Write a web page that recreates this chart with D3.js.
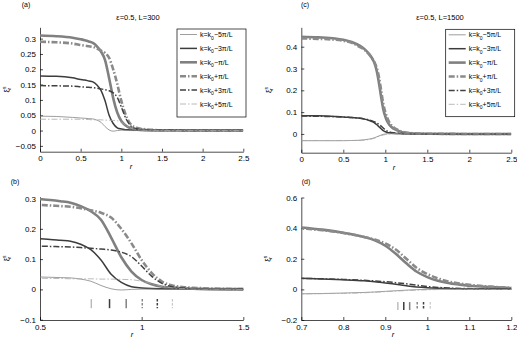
<!DOCTYPE html>
<html>
<head>
<meta charset="utf-8">
<script src="https://cdn.jsdelivr.net/npm/d3@7"></script>
<style>
  body { margin: 0; background: #fff; }
  svg { display: block; font-family: "Liberation Sans", Arial, sans-serif; }
  .axis path, .axis line { stroke: #000; stroke-width: 0.7; }
  .axis text { font-size: 8px; fill: #000; }
</style>
</head>
<body>
<script>
// series names (legend order)
var seriesNames = ['\u22125\u03c0/L', '\u22123\u03c0/L', '\u2212\u03c0/L', '+\u03c0/L', '+3\u03c0/L', '+5\u03c0/L'];

// L=300, panels (a) and (b)
var r300 = [0, 0.2, 0.4, 0.5, 0.55, 0.6, 0.65, 0.7, 0.75, 0.8, 0.85, 0.9, 0.95, 1.0, 1.05, 1.1, 1.15, 1.2, 1.3, 1.4, 1.5, 2.0, 2.5];
var m5_300 = [0.047, 0.046, 0.043, 0.041, 0.040, 0.039, 0.038, 0.034, 0.027, 0.013, 0.002, -0.002, 0.000, 0.001, 0.001, 0, 0, 0, 0, 0, 0, 0, 0];
var m3_300 = [0.178, 0.177, 0.172, 0.167, 0.165, 0.162, 0.159, 0.149, 0.131, 0.097, 0.050, 0.023, 0.009, 0.005, 0.003, 0.002, 0.001, 0.001, 0, 0, 0, 0, 0];
var m1_300 = [0.310, 0.308, 0.303, 0.298, 0.295, 0.291, 0.286, 0.275, 0.258, 0.230, 0.171, 0.106, 0.059, 0.031, 0.017, 0.009, 0.006, 0.004, 0.002, 0.001, 0.001, 0.001, 0.001];
var p1_300 = [0.290, 0.288, 0.284, 0.279, 0.277, 0.275, 0.273, 0.268, 0.261, 0.253, 0.237, 0.200, 0.152, 0.097, 0.054, 0.026, 0.013, 0.008, 0.004, 0.002, 0.001, 0.001, 0.001];
var p3_300 = [0.147, 0.146, 0.145, 0.143, 0.142, 0.141, 0.140, 0.138, 0.136, 0.133, 0.130, 0.123, 0.108, 0.077, 0.043, 0.020, 0.009, 0.005, 0.002, 0.001, 0.001, 0, 0];
var p5_300 = [0.037, 0.037, 0.037, 0.037, 0.036, 0.036, 0.035, 0.035, 0.035, 0.034, 0.034, 0.033, 0.032, 0.027, 0.019, 0.010, 0.005, 0.003, 0.001, 0.001, 0, 0, 0];
var marks300 = [0.752, 0.842, 0.924, 1.003, 1.077, 1.151];

// L=1500, panels (c) and (d)
var r1500 = [0, 0.2, 0.4, 0.5, 0.6, 0.7, 0.75, 0.8, 0.85, 0.875, 0.9, 0.925, 0.95, 0.975, 1.0, 1.025, 1.05, 1.1, 1.15, 1.2, 1.3, 1.5, 2.0, 2.5];
var m5_1500 = [-0.031, -0.031, -0.031, -0.031, -0.030, -0.029, -0.027, -0.024, -0.020, -0.017, -0.013, -0.009, -0.005, -0.002, 0.000, 0.001, 0.001, 0.001, 0, 0, 0, 0, 0, 0];
var m3_1500 = [0.084, 0.083, 0.080, 0.078, 0.075, 0.072, 0.068, 0.063, 0.056, 0.050, 0.042, 0.033, 0.024, 0.015, 0.010, 0.007, 0.005, 0.003, 0.002, 0.001, 0, 0, 0, 0];
var m1_1500 = [0.446, 0.443, 0.438, 0.432, 0.422, 0.404, 0.390, 0.370, 0.342, 0.320, 0.285, 0.232, 0.170, 0.115, 0.080, 0.056, 0.041, 0.024, 0.015, 0.008, 0.003, 0.001, 0, 0];
var p1_1500 = [0.438, 0.436, 0.432, 0.427, 0.418, 0.398, 0.386, 0.368, 0.342, 0.325, 0.300, 0.260, 0.200, 0.140, 0.100, 0.072, 0.052, 0.030, 0.018, 0.010, 0.004, 0.001, 0, 0];
var p3_1500 = [0.082, 0.081, 0.079, 0.077, 0.075, 0.072, 0.069, 0.065, 0.059, 0.055, 0.050, 0.044, 0.036, 0.027, 0.019, 0.013, 0.009, 0.005, 0.003, 0.002, 0.001, 0, 0, 0];
var p5_1500 = [-0.030, -0.030, -0.030, -0.030, -0.030, -0.029, -0.028, -0.026, -0.022, -0.019, -0.015, -0.011, -0.008, -0.005, -0.003, -0.001, 0.000, 0.000, 0, 0, 0, 0, 0, 0];
var marks1500 = [0.930, 0.944, 0.958, 0.976, 0.991, 1.007];

var styles = [
  {color: '#858585', width: 0.8, dash: null},
  {color: '#3c3c3c', width: 1.5, dash: null},
  {color: '#808080', width: 2.6, dash: null},
  {color: '#8a8a8a', width: 2.6, dash: '6,2,1.5,2'},
  {color: '#404040', width: 1.5, dash: '6,2,1.5,2'},
  {color: '#a8a8a8', width: 0.8, dash: '6,2,1.5,2'}
];

var sets = {
  L300:  {r: r300,  ys: [m5_300, m3_300, m1_300, p1_300, p3_300, p5_300], marks: marks300},
  L1500: {r: r1500, ys: [m5_1500, m3_1500, m1_1500, p1_1500, p3_1500, p5_1500], marks: marks1500}
};

var panels = [
  {tag: '(a)', tagX: 26, tagY: 7, set: 'L300', x0: 40, x1: 243.3, y0: 27.3, y1: 151.7,
   xdom: [0, 2.5], ydom: [-0.069, 0.337], xticks: [0, 0.5, 1, 1.5, 2, 2.5],
   yticks: [-0.05, 0, 0.05, 0.1, 0.15, 0.2, 0.25, 0.3], title: '\u03b5=0.5, L=300', titleX: 138,
   legend: {x: 177, y: 29, w: 69, h: 88}, ylabX: 9, xlabX: 131},
  {tag: '(b)', tagX: 15, tagY: 184, set: 'L300', x0: 40, x1: 243.3, y0: 196.7, y1: 320,
   xdom: [0.5, 1.5], ydom: [-0.101, 0.306], xticks: [0.5, 1, 1.5],
   yticks: [-0.1, 0, 0.1, 0.2, 0.3], marks: [-0.032, -0.062], ylabX: 9, xlabX: 132},
  {tag: '(c)', tagX: 305, tagY: 7, set: 'L1500', x0: 301.3, x1: 511.3, y0: 27.3, y1: 152.7,
   xdom: [0, 2.5], ydom: [-0.086, 0.489], xticks: [0, 0.5, 1, 1.5, 2, 2.5],
   yticks: [0, 0.1, 0.2, 0.3, 0.4], title: '\u03b5=0.5, L=1500', titleX: 440,
   legend: {x: 445.7, y: 29.3, w: 69, h: 87.4}, ylabX: 271, xlabX: 394},
  {tag: '(d)', tagX: 306, tagY: 184, set: 'L1500', x0: 301.3, x1: 511.3, y0: 197.5, y1: 320,
   xdom: [0.7, 1.2], ydom: [-0.2, 0.6], xticks: [0.7, 0.8, 0.9, 1, 1.1, 1.2],
   yticks: [-0.2, 0, 0.2, 0.4, 0.6], marks: [-0.083, -0.135], ylabX: 270, xlabX: 393}
];

var width = 517, height = 339;

var svg = d3.select('body').append('svg')
    .attr('width', width)
    .attr('height', height);

function fmt(d) {
  var s = String(Math.round(d * 1000) / 1000);
  return s.replace('-', '\u2212');
}

panels.forEach(function(p, pi) {
  var set = sets[p.set];
  var x = d3.scaleLinear().domain(p.xdom).range([p.x0, p.x1]);
  var y = d3.scaleLinear().domain(p.ydom).range([p.y1, p.y0]);

  var clipId = 'clip' + pi;
  svg.append('clipPath').attr('id', clipId)
    .append('rect')
      .attr('x', p.x0).attr('y', p.y0 - 2)
      .attr('width', p.x1 - p.x0).attr('height', p.y1 - p.y0 + 2);

  // axes (box off, ticks pointing in)
  svg.append('g')
      .attr('class', 'axis')
      .attr('transform', 'translate(0,' + p.y1 + ')')
      .call(d3.axisBottom(x).tickValues(p.xticks).tickFormat(fmt)
        .tickSizeInner(-3).tickSizeOuter(0).tickPadding(4));

  svg.append('g')
      .attr('class', 'axis')
      .attr('transform', 'translate(' + p.x0 + ',0)')
      .call(d3.axisLeft(y).tickValues(p.yticks).tickFormat(fmt)
        .tickSizeInner(-3).tickSizeOuter(0).tickPadding(4));

  // curves
  var line = d3.line()
      .x(function(d) { return x(d[0]); })
      .y(function(d) { return y(d[1]); })
      .curve(d3.curveMonotoneX);

  var g = svg.append('g').attr('clip-path', 'url(#' + clipId + ')');
  // draw thick ones first so thin lines stay visible
  [2, 3, 1, 4, 0, 5].forEach(function(i) {
    var pts = set.r.map(function(rv, k) { return [rv, set.ys[i][k]]; });
    g.append('path')
        .attr('d', line(pts))
        .attr('fill', 'none')
        .attr('stroke', styles[i].color)
        .attr('stroke-width', styles[i].width)
        .attr('stroke-dasharray', styles[i].dash);
  });

  // vertical markers
  if (p.marks) {
    set.marks.forEach(function(mv, i) {
      svg.append('line')
          .attr('x1', x(mv)).attr('x2', x(mv))
          .attr('y1', y(p.marks[0])).attr('y2', y(p.marks[1]))
          .attr('stroke', styles[i].color)
          .attr('stroke-width', Math.min(styles[i].width, 1.5))
          .attr('stroke-dasharray', styles[i].dash ? '2.5,1.5' : null);
    });
  }

  // labels
  svg.append('text')
      .attr('x', p.tagX).attr('y', p.tagY)
      .attr('text-anchor', 'middle')
      .attr('font-size', 7)
      .text(p.tag);

  svg.append('text')
      .attr('x', p.xlabX).attr('y', p.y1 + 17)
      .attr('text-anchor', 'middle')
      .attr('font-size', 7.5)
      .attr('font-style', 'italic')
      .text('r');

  var yl = svg.append('text')
      .attr('transform', 'translate(' + p.ylabX + ',' + ((p.y0 + p.y1) / 2) + ') rotate(-90)')
      .attr('text-anchor', 'middle')
      .attr('font-size', 7.5);
  yl.append('tspan').text('\u03be');
  yl.append('tspan').attr('font-size', 5).attr('dy', -3).text('s');
  yl.append('tspan').attr('font-size', 5).attr('dx', -3).attr('dy', 5).text('r');

  if (p.title) {
    svg.append('text')
        .attr('x', p.titleX).attr('y', 20)
        .attr('text-anchor', 'middle')
        .attr('font-size', 7.5)
        .text(p.title);
  }

  // legend
  if (p.legend) {
    var lg = svg.append('g');
    lg.append('rect')
        .attr('x', p.legend.x).attr('y', p.legend.y)
        .attr('width', p.legend.w).attr('height', p.legend.h)
        .attr('fill', '#fff')
        .attr('stroke', '#000')
        .attr('stroke-width', 0.7);
    seriesNames.forEach(function(name, i) {
      var ly = p.legend.y + 5.5 + i * 13.9;
      lg.append('line')
          .attr('x1', p.legend.x + 3).attr('x2', p.legend.x + 20)
          .attr('y1', ly).attr('y2', ly)
          .attr('stroke', styles[i].color)
          .attr('stroke-width', styles[i].width)
          .attr('stroke-dasharray', styles[i].dash);
      var t = lg.append('text')
          .attr('x', p.legend.x + 23).attr('y', ly + 2.5)
          .attr('font-size', 7);
      t.append('tspan').text('k=k');
      t.append('tspan').attr('font-size', 5).attr('dy', 2.5).text('0');
      t.append('tspan').attr('dy', -2.5).text(name);
    });
  }
});
</script>
</body>
</html>
